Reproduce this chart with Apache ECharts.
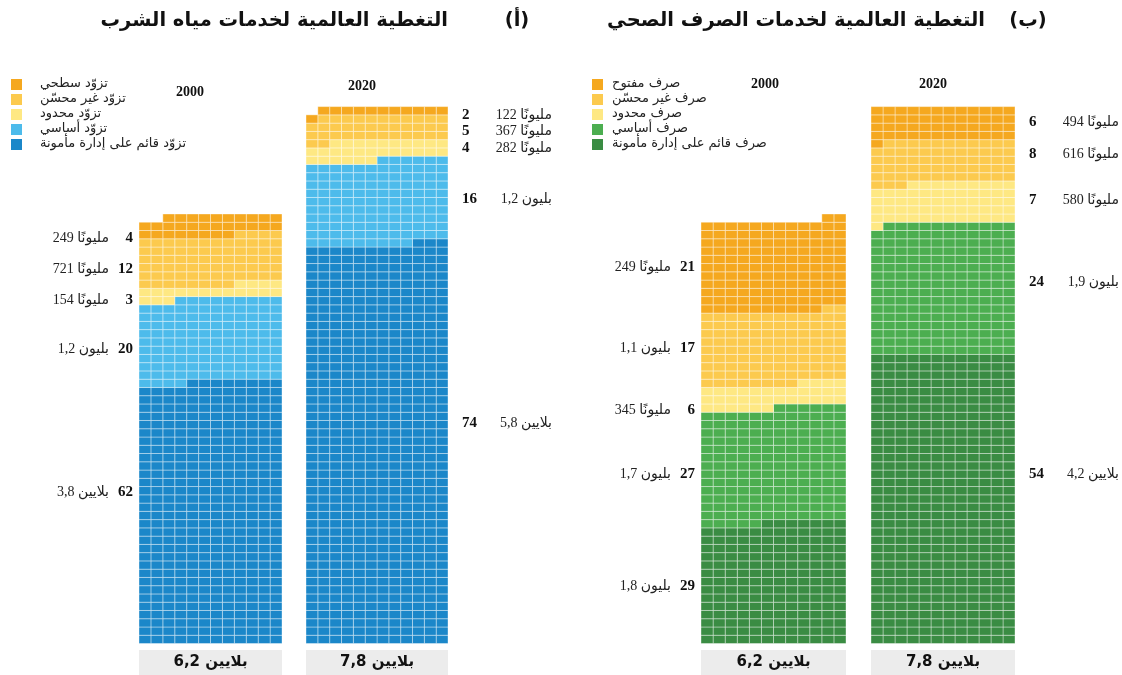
<!DOCTYPE html>
<html>
<head>
<meta charset="utf-8">
<script src="https://cdn.jsdelivr.net/npm/echarts@6.0.0/dist/echarts.min.js"></script>
<style>
  html, body { margin: 0; padding: 0; background: #fff; }
  #chart { width: 1122px; height: 675px; }
</style>
</head>
<body>
<div id="chart"></div>
<script>
// categories, top of the column first
var waterCats = ['تزوّد سطحي', 'تزوّد غير محسّن', 'تزوّد محدود', 'تزوّد أساسي', 'تزوّد قائم على إدارة مأمونة'];
var sanCats = ['صرف مفتوح', 'صرف غير محسّن', 'صرف محدود', 'صرف أساسي', 'صرف قائم على إدارة مأمونة'];

// number of cells drawn (1 cell ~ 10 million people), same order as the categories
var water2000Cells = [30, 72, 19, 121, 380];
var water2020Cells = [12, 37, 28, 123, 579];
var san2000Cells = [132, 106, 34, 167, 175];
var san2020Cells = [49, 62, 58, 191, 420];

// percent labels
var water2000Pct = [4, 12, 3, 20, 62];
var water2020Pct = [2, 5, 4, 16, 74];
var san2000Pct = [21, 17, 6, 27, 29];
var san2020Pct = [6, 8, 7, 24, 54];

// population labels
var water2000Pop = ['249 مليونًا', '721 مليونًا', '154 مليونًا', '1,2 بليون', '3,8 بلايين'];
var water2020Pop = ['122 مليونًا', '367 مليونًا', '282 مليونًا', '1,2 بليون', '5,8 بلايين'];
var san2000Pop = ['249 مليونًا', '1,1 بليون', '345 مليونًا', '1,7 بليون', '1,8 بليون'];
var san2020Pop = ['494 مليونًا', '616 مليونًا', '580 مليونًا', '1,9 بليون', '4,2 بلايين'];

var years = ['2000', '2020'];
var totals = ['6,2 بلايين', '7,8 بلايين'];

var waterColors = ['#f5a81f', '#fcca4e', '#fee883', '#4dbbeb', '#1b87c9'];
var sanColors = ['#f5a81f', '#fcca4e', '#fee883', '#4cae50', '#3a8c43'];

// layout
var COLS = 12;
var ROWS = 66;
var ROW_H = 8.26;
var BASE_Y = 643.5;
var gridTop = BASE_Y - ROWS * ROW_H;
var LRM = '\u200E'; // keep the number on the left of the word

var columns = [
  { cells: water2000Cells, pct: water2000Pct, pop: water2000Pop, colors: waterColors, left: 139, width: 143,
    side: 'left', labelY: [238, 269, 300, 349, 492], year: years[0], yearX: 190, yearY: 92, total: totals[0] },
  { cells: water2020Cells, pct: water2020Pct, pop: water2020Pop, colors: waterColors, left: 306, width: 142,
    side: 'right', labelY: [115, 131, 148, 199, 423], year: years[1], yearX: 362, yearY: 86, total: totals[1] },
  { cells: san2000Cells, pct: san2000Pct, pop: san2000Pop, colors: sanColors, left: 701, width: 145,
    side: 'left', labelY: [267, 348, 410, 474, 586], year: years[0], yearX: 765, yearY: 84, total: totals[0] },
  { cells: san2020Cells, pct: san2020Pct, pop: san2020Pop, colors: sanColors, left: 871, width: 144,
    side: 'right', labelY: [122, 154, 200, 282, 474], year: years[1], yearX: 933, yearY: 84, total: totals[1] }
];

// fill from the bottom, each row right to left
function buildCells(counts) {
  var out = [];
  var idx = 0;
  for (var c = counts.length - 1; c >= 0; c--) {
    for (var k = 0; k < counts[c]; k++) {
      var row = Math.floor(idx / COLS);
      var col = COLS - 1 - (idx % COLS);
      out.push([col, row, c]);
      idx++;
    }
  }
  return out;
}

function makeRender(colors) {
  return function (params, api) {
    var col = api.value(0), row = api.value(1), cat = api.value(2);
    var p0 = api.coord([col, row]);
    var p1 = api.coord([col + 1, row + 1]);
    return {
      type: 'rect',
      shape: { x: p0[0], y: p1[1], width: p1[0] - p0[0], height: p0[1] - p1[1] },
      style: { fill: colors[cat], stroke: 'rgba(255,255,255,0.38)', lineWidth: 1 }
    };
  };
}

var grids = [], xAxes = [], yAxes = [], series = [], graphics = [];

columns.forEach(function (col, i) {
  grids.push({ left: col.left, width: col.width, top: gridTop, height: ROWS * ROW_H });
  xAxes.push({ type: 'value', gridIndex: i, min: 0, max: COLS, show: false });
  yAxes.push({ type: 'value', gridIndex: i, min: 0, max: ROWS, show: false });
  series.push({
    type: 'custom',
    xAxisIndex: i,
    yAxisIndex: i,
    renderItem: makeRender(col.colors),
    encode: { x: 0, y: 1 },
    silent: true,
    data: buildCells(col.cells)
  });

  // labels beside the column
  for (var k = 0; k < col.pct.length; k++) {
    var numX, popX, numAlign, popAlign;
    if (col.side === 'left') {
      numX = col.left - 6; numAlign = 'right';
      popX = col.left - 30; popAlign = 'right';
    } else {
      numX = col.left + col.width + 14; numAlign = 'left';
      popX = col.left + col.width + 104; popAlign = 'right';
    }
    graphics.push({
      type: 'text', x: numX, y: col.labelY[k],
      style: { text: String(col.pct[k]), align: numAlign, verticalAlign: 'middle',
        font: 'bold 15px "Liberation Serif", serif', fill: '#111' }
    });
    graphics.push({
      type: 'text', x: popX, y: col.labelY[k],
      style: { text: LRM + col.pop[k], align: popAlign, verticalAlign: 'middle',
        font: '14px "Liberation Serif", "DejaVu Sans", serif', fill: '#222' }
    });
  }

  // year
  graphics.push({
    type: 'text', x: col.yearX, y: col.yearY,
    style: { text: col.year, align: 'center', verticalAlign: 'middle',
      font: 'bold 14px "Liberation Serif", serif', fill: '#111' }
  });

  // total box under the column
  graphics.push({
    type: 'rect', shape: { x: col.left, y: 650, width: col.width, height: 25 },
    style: { fill: '#ececec' }
  });
  graphics.push({
    type: 'text', x: col.left + col.width / 2, y: 662,
    style: { text: LRM + col.total, align: 'center', verticalAlign: 'middle',
      font: 'bold 15px "DejaVu Sans", sans-serif', fill: '#111' }
  });
});

// legends
function addLegend(names, colors, sqX, txtX) {
  names.forEach(function (n, i) {
    graphics.push({
      type: 'rect', shape: { x: sqX, y: 79 + i * 15, width: 11, height: 11 },
      style: { fill: colors[i] }
    });
    graphics.push({
      type: 'text', x: txtX, y: 84 + i * 15,
      style: { text: n, align: 'left', verticalAlign: 'middle',
        font: '13px "DejaVu Sans", sans-serif', fill: '#222' }
    });
  });
}
addLegend(waterCats, waterColors, 11, 40);
addLegend(sanCats, sanColors, 592, 612);

// titles
var titleFont = 'bold 19.5px "DejaVu Sans", sans-serif';
graphics.push({
  type: 'text', x: 448, y: 21,
  style: { text: 'التغطية العالمية لخدمات مياه الشرب', align: 'right', verticalAlign: 'middle',
    font: titleFont, fill: '#111' }
});
graphics.push({
  type: 'text', x: 517, y: 21,
  style: { text: '(أ)', align: 'center', verticalAlign: 'middle', font: titleFont, fill: '#111' }
});
graphics.push({
  type: 'text', x: 985, y: 21,
  style: { text: 'التغطية العالمية لخدمات الصرف الصحي', align: 'right', verticalAlign: 'middle',
    font: titleFont, fill: '#111' }
});
graphics.push({
  type: 'text', x: 1028, y: 21,
  style: { text: '(ب)', align: 'center', verticalAlign: 'middle', font: titleFont, fill: '#111' }
});

var chart = echarts.init(document.getElementById('chart'), null, { renderer: 'canvas' });
chart.setOption({
  backgroundColor: '#ffffff',
  animation: false,
  grid: grids,
  xAxis: xAxes,
  yAxis: yAxes,
  series: series,
  graphic: graphics
});
</script>
</body>
</html>
